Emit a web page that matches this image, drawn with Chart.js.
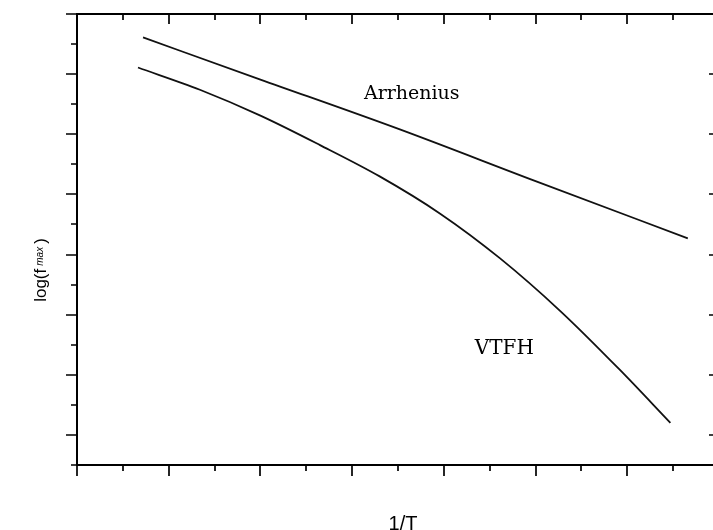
<!DOCTYPE html>
<html>
<head>
<meta charset="utf-8">
<script src="https://cdn.jsdelivr.net/npm/chart.js@4.4.1/dist/chart.umd.min.js"></script>
<style>
  html, body { margin: 0; padding: 0; background: #fff; overflow: hidden; }
  #wrap { position: relative; width: 713px; height: 530px; overflow: hidden; }
  #chart { position: absolute; left: 0; top: 0; }
</style>
</head>
<body>
<div id="wrap"><canvas id="chart" width="722" height="530"></canvas></div>
<script>
// log(f_max) against 1/T, arbitrary units (no tick labels in the original)
const arrheniusX = [0.72, 2.0, 3.52, 5.0, 6.66];
const arrheniusY = [6.61, 5.91, 5.08, 4.22, 3.27];
const vtfhX = [0.665, 1.34, 2.0, 2.65, 3.30, 3.96, 4.61, 5.27, 5.92, 6.47];
const vtfhY = [6.11, 5.74, 5.31, 4.82, 4.30, 3.68, 2.94, 2.06, 1.08, 0.20];

const xRange = [0, 7];
const yRange = [-0.5, 7];
const majorStep = 1;
const minorStep = 0.5;

const curveNames = ['Arrhenius', 'VTFH'];
// where each curve name sits, in data units
const curveLabels = [
    { text: curveNames[0], x: 3.65, y: 5.59, font: '19px "DejaVu Serif"' },
    { text: curveNames[1], x: 4.66, y: 1.35, font: '20px "DejaVu Serif"' },
];

const toPoints = (xs, ys) => xs.map((v, i) => ({ x: v, y: ys[i] }));

const isMajor = v => Math.abs(v / majorStep - Math.round(v / majorStep)) < 1e-6;

const framePlugin = {
    id: 'frame',
    afterDraw(chart) {
        const { ctx, chartArea: a, scales: { x, y } } = chart;
        ctx.save();
        ctx.strokeStyle = '#000';
        ctx.lineWidth = 2;
        ctx.strokeRect(a.left, a.top, a.right - a.left, a.bottom - a.top);

        ctx.lineWidth = 1.7;
        ctx.beginPath();
        for (let v = x.min; v <= x.max + 1e-9; v += minorStep) {
            const px = Math.round(x.getPixelForValue(v));
            const m = isMajor(v);
            ctx.moveTo(px, a.bottom); ctx.lineTo(px, a.bottom + (m ? 11 : 6));
            ctx.moveTo(px, a.top); ctx.lineTo(px, a.top + (m ? 10 : 6));
        }
        for (let v = y.min; v <= y.max + 1e-9; v += minorStep) {
            const py = Math.round(y.getPixelForValue(v));
            const m = isMajor(v);
            ctx.moveTo(a.left, py); ctx.lineTo(a.left - (m ? 11 : 6), py);
            ctx.moveTo(a.right, py); ctx.lineTo(a.right - (m ? 10 : 6), py);
        }
        ctx.stroke();

        // curve names
        ctx.fillStyle = '#000';
        ctx.textAlign = 'center';
        ctx.textBaseline = 'alphabetic';
        curveLabels.forEach(l => {
            ctx.font = l.font;
            ctx.fillText(l.text, x.getPixelForValue(l.x), y.getPixelForValue(l.y));
        });

        // x title
        ctx.font = '20px "Liberation Sans"';
        ctx.fillText('1/T', 403, 530);

        // y title, log(f_max) with small "max"
        ctx.translate(46, 270);
        ctx.rotate(-Math.PI / 2);
        ctx.textAlign = 'left';
        const big = '17px "Liberation Sans"';
        const small = 'italic 10px "Liberation Sans"';
        ctx.font = big;
        const w1 = ctx.measureText('log(f').width;
        const w3 = ctx.measureText(')').width;
        ctx.font = small;
        const w2 = ctx.measureText('max').width;
        const gap = 3;
        let cx = -(w1 + gap + w2 + gap + w3) / 2;
        ctx.font = big;
        ctx.fillText('log(f', cx, 0);
        cx += w1 + gap;
        ctx.font = small;
        ctx.fillText('max', cx, -3);
        cx += w2 + gap;
        ctx.font = big;
        ctx.fillText(')', cx, 0);
        ctx.restore();
    }
};

new Chart(document.getElementById('chart').getContext('2d'), {
    type: 'line',
    data: {
        datasets: [
            {
                label: curveNames[0],
                data: toPoints(arrheniusX, arrheniusY),
                borderColor: '#111',
                borderWidth: 1.8,
                pointRadius: 0,
                cubicInterpolationMode: 'monotone',
            },
            {
                label: curveNames[1],
                data: toPoints(vtfhX, vtfhY),
                borderColor: '#111',
                borderWidth: 1.8,
                pointRadius: 0,
                cubicInterpolationMode: 'monotone',
            }
        ]
    },
    options: {
        responsive: false,
        animation: false,
        devicePixelRatio: 1,
        layout: { padding: { left: 77, right: 3, top: 14, bottom: 65 } },
        plugins: {
            legend: { display: false },
            tooltip: { enabled: false }
        },
        scales: {
            x: { type: 'linear', display: false, min: xRange[0], max: xRange[1] },
            y: { type: 'linear', display: false, min: yRange[0], max: yRange[1] }
        }
    },
    plugins: [framePlugin]
});
</script>
</body>
</html>
